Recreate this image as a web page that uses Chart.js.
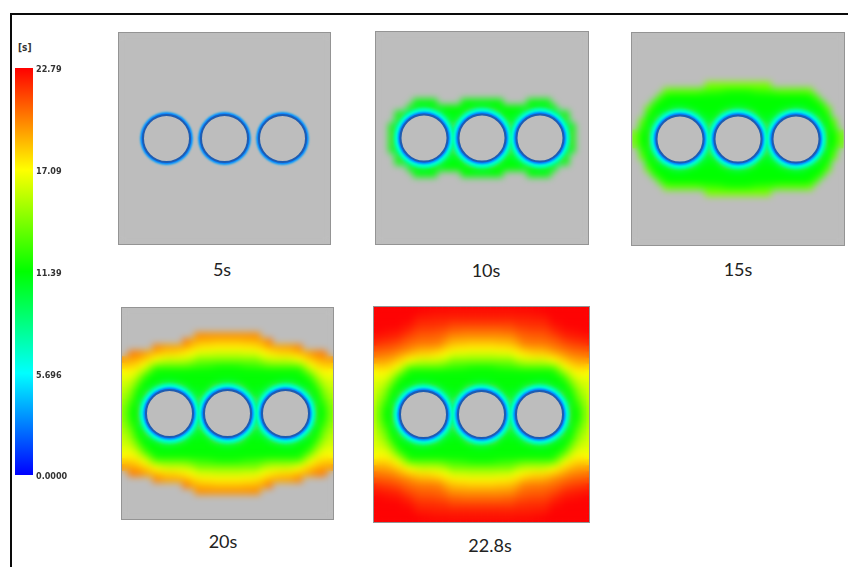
<!DOCTYPE html>
<html>
<head>
<meta charset="utf-8">
<script src="https://cdn.jsdelivr.net/npm/chart.js@4/dist/chart.umd.min.js"></script>
<style>
html, body { margin: 0; padding: 0; background: #fff; overflow: hidden; }
#frame { position: absolute; left: 10px; top: 13px; width: 860px; height: 600px; border: 2px solid #0a0a0a; box-sizing: border-box; }
.box { position: absolute; }
.cap { position: absolute; transform: translate(-50%, -50%); font: 18px Lato, sans-serif; color: #222; white-space: nowrap; }
#unit { position: absolute; left: 18px; top: 42px; font: bold 10px "DejaVu Sans Condensed", sans-serif; color: #333; }
</style>
</head>
<body>
<div id="frame"></div>
<div id="unit">[s]</div>

<script>
// colour scale
const scaleTicks = [0, 5.696, 11.39, 17.09, 22.79];
const scaleLabels = ['0.0000', '5.696', '11.39', '17.09', '22.79'];
const scaleColors = [[0, 0, 255], [0, 255, 255], [0, 255, 0], [255, 255, 0], [255, 0, 0]];

// colours as they look on the plates, green holds longer there than on the bar
const fieldTimes = [0, 4.5, 9.5, 13, 17.09, 22.79];
const fieldColors = [[0, 0, 255], [0, 255, 255], [0, 255, 0], [0, 255, 0], [255, 255, 0], [255, 0, 0]];

// snapshots
const panelNames = ['5s', '10s', '15s', '20s', '22.8s'];
const panelTimes = [5, 10, 15, 20, 22.8];
const panelLeft = [118, 375, 631, 121, 373];
const panelTop = [32, 31, 32, 307, 306];
const panelSize = [213, 214, 214, 213, 217];
const captionX = [222, 486, 738, 223, 490];
const captionY = [269, 270, 269, 541, 545];

// inserts, centre of each hole relative to the panel middle
const holeX = [-58, 0, 58];
const rimRadius = [30.5, 29, 27.8, 26.2, 25.2];
const rimTime = [7, 6, 5.1, 3.2, 1.8];

// fill time, one quarter of the plate (6 px step from the middle), 0 = under an insert
const gridStep = [0, 6, 12, 18, 24, 30, 36, 42, 48, 54, 60, 66, 72, 78, 84, 90, 96, 102, 108];
const fillTime = [
  [0, 0, 0, 0, 0, 7, 0, 0, 0, 0, 0, 0, 0, 0, 0, 9.5, 13, 14.7, 16],
  [0, 0, 0, 0, 0, 7, 0, 0, 0, 0, 0, 0, 0, 0, 0, 9.8, 13.2, 14.8, 16],
  [0, 0, 0, 0, 0, 8.3, 0, 0, 0, 0, 0, 0, 0, 0, 6.6, 9.9, 13.8, 15.1, 16.2],
  [0, 0, 0, 0, 8, 9.7, 6.4, 0, 0, 0, 0, 0, 0, 0, 9, 12.3, 14.6, 15.5, 16.4],
  [0, 0, 0, 8, 10, 9, 9.3, 6.8, 0, 0, 0, 0, 6, 8.6, 9.9, 13.4, 15.1, 15.9, 16.5],
  [8, 8.3, 9.1, 9.6, 9.7, 9.8, 9.6, 9.4, 9, 8.3, 8, 8.5, 9.5, 10.9, 12.6, 14.5, 15.8, 16.3, 16.6],
  [9.9, 9.9, 9.9, 9.9, 11, 11.2, 11, 10.9, 9.9, 9.9, 9.9, 9.9, 11.4, 12.6, 14, 15.5, 16.5, 16.7, 16.8],
  [11.8, 11.8, 11.9, 12.3, 12.5, 12.6, 12.6, 12.8, 12.5, 12.3, 12.3, 12.5, 13.1, 14.2, 15.5, 16.6, 17.2, 17.2, 17],
  [13.4, 13.4, 13.5, 13.8, 13.9, 14, 14.2, 14.5, 14.5, 14.5, 14.5, 14.5, 14.7, 16, 17, 17.7, 18.1, 18.2, 18],
  [15, 15, 15, 15, 15, 15, 15.8, 16.1, 16.3, 16.3, 16.3, 16.6, 17, 17.6, 18.2, 18.8, 19.1, 19.2, 19.3],
  [16.2, 16.2, 16.2, 16.4, 16.4, 16.6, 17, 17.4, 17.6, 17.9, 17.9, 18.1, 18.4, 18.9, 19.4, 19.8, 20, 20.1, 20.3],
  [17.4, 17.4, 17.4, 17.5, 17.5, 17.7, 18.1, 18.7, 19, 19.1, 19.1, 19.4, 19.8, 20.1, 20.4, 20.7, 20.8, 20.9, 21.1],
  [18.4, 18.4, 18.4, 18.6, 18.6, 18.8, 19.2, 20, 20.1, 20.2, 20.2, 20.3, 20.5, 20.8, 21.2, 21.4, 21.6, 21.7, 22],
  [19.5, 19.5, 19.5, 19.5, 19.6, 19.6, 20.2, 20.5, 20.6, 20.7, 20.7, 20.9, 21.2, 21.5, 22, 22.1, 22.2, 22.3, 22.4],
  [20.4, 20.4, 20.4, 20.4, 20.6, 20.6, 20.9, 21.1, 21.2, 21.3, 21.3, 21.4, 21.9, 22.2, 22.4, 22.5, 22.6, 22.7, 22.79],
  [21.3, 21.3, 21.3, 21.3, 21.3, 21.3, 21.7, 21.7, 21.8, 21.8, 21.8, 22, 22.4, 22.5, 22.79, 22.79, 22.79, 22.79, 22.79],
  [22.05, 22.05, 22.05, 22.05, 22.05, 22.05, 22.1, 22.1, 22.1, 22.2, 22.2, 22.3, 22.79, 22.79, 22.79, 22.79, 22.79, 22.79, 22.79],
  [22.4, 22.4, 22.4, 22.4, 22.4, 22.4, 22.5, 22.5, 22.5, 22.6, 22.6, 22.79, 22.79, 22.79, 22.79, 22.79, 22.79, 22.79, 22.79],
  [22.7, 22.7, 22.7, 22.7, 22.7, 22.7, 22.7, 22.7, 22.7, 22.75, 22.75, 22.79, 22.79, 22.79, 22.79, 22.79, 22.79, 22.79, 22.79]
];

const plateColor = '#bdbdbd';

function timeColor(t) {
  let i = 0;
  while (i < fieldTimes.length - 2 && t > fieldTimes[i + 1]) i++;
  const f = Math.min(1, (t - fieldTimes[i]) / (fieldTimes[i + 1] - fieldTimes[i]));
  const c = fieldColors[i].map((v, k) => Math.round(v + (fieldColors[i + 1][k] - v) * f));
  return 'rgb(' + c.join(',') + ')';
}

function addCanvas(left, top, w, h) {
  const box = document.createElement('div');
  box.className = 'box';
  box.style.left = left + 'px';
  box.style.top = top + 'px';
  box.style.width = w + 'px';
  box.style.height = h + 'px';
  const canvas = document.createElement('canvas');
  box.appendChild(canvas);
  document.body.appendChild(box);
  return canvas;
}

// soft edges: rims blur point by point, the cell layer is blurred as a whole once it is drawn
const blurLayers = {
  id: 'blurLayers',
  beforeDatasetDraw(chart, args) {
    const blur = chart.data.datasets[args.index].blur;
    if (blur) {
      chart.ctx.save();
      chart.ctx.filter = 'blur(' + blur + 'px)';
    }
  },
  afterDatasetDraw(chart, args) {
    const ds = chart.data.datasets[args.index];
    if (ds.blur) chart.ctx.restore();
    if (ds.smooth) {
      chart.ctx.save();
      chart.ctx.filter = 'blur(' + ds.smooth + 'px)';
      chart.ctx.drawImage(chart.canvas, 0, 0, chart.width, chart.height);
      chart.ctx.restore();
    }
  }
};

const plateBack = {
  id: 'plateBack',
  beforeDatasetsDraw(chart) {
    const a = chart.chartArea, c = chart.ctx;
    c.save();
    c.fillStyle = plateColor;
    c.fillRect(a.left, a.top, a.width, a.height);
    c.restore();
  },
  afterDatasetsDraw(chart) {
    const a = chart.chartArea, c = chart.ctx;
    c.save();
    c.strokeStyle = '#949494';
    c.lineWidth = 1;
    c.strokeRect(a.left + 0.5, a.top + 0.5, a.width - 1, a.height - 1);
    c.restore();
  }
};

function makePanel(p) {
  const canvas = addCanvas(panelLeft[p], panelTop[p], panelSize[p], panelSize[p]);
  const half = panelSize[p] / 2;
  const cells = [], cellColors = [];
  fillTime.forEach((row, j) => {
    row.forEach((t, i) => {
      if (t === 0 || t > panelTimes[p]) return;
      const xs = i === 0 ? [0] : [-gridStep[i], gridStep[i]];
      const ys = j === 0 ? [0] : [-gridStep[j], gridStep[j]];
      xs.forEach(x => ys.forEach(y => {
        cells.push({ x: x, y: y });
        cellColors.push(timeColor(t));
      }));
    });
  });

  const holes = holeX.map(x => ({ x: x, y: 0 }));
  const datasets = [{
    data: cells,
    pointStyle: 'rect',
    pointRadius: 4.6,
    pointBorderWidth: 0,
    backgroundColor: cellColors,
    smooth: 3.5,
    order: 20
  }];
  rimRadius.forEach((r, i) => {
    if (rimTime[i] > panelTimes[p]) return;
    datasets.push({
      data: holes,
      pointRadius: r,
      pointBorderWidth: 0,
      backgroundColor: timeColor(rimTime[i]),
      blur: 0.8,
      order: 10 - i
    });
  });
  datasets.push({
    data: holes,
    pointRadius: 23.5,
    pointBorderWidth: 2,
    borderColor: '#1f5cb0',
    backgroundColor: plateColor,
    order: 0
  });

  new Chart(canvas, {
    type: 'scatter',
    data: { datasets: datasets },
    options: {
      responsive: true,
      maintainAspectRatio: false,
      animation: false,
      events: [],
      layout: { padding: 0, autoPadding: false },
      plugins: { legend: { display: false }, tooltip: { enabled: false } },
      scales: {
        x: { type: 'linear', min: -half, max: half, display: false },
        y: { type: 'linear', min: -half, max: half, display: false }
      }
    },
    plugins: [plateBack, blurLayers]
  });
}

function makeScale() {
  const canvas = addCanvas(15, 58, 63, 430);
  const top = scaleTicks[scaleTicks.length - 1];
  new Chart(canvas, {
    type: 'bar',
    data: {
      labels: ['time'],
      datasets: [{
        data: [top],
        barPercentage: 1,
        categoryPercentage: 1,
        backgroundColor(ctx) {
          const y = ctx.chart.scales.y;
          const y0 = y ? y.getPixelForValue(0) : NaN;
          const y1 = y ? y.getPixelForValue(top) : NaN;
          if (!isFinite(y0) || !isFinite(y1) || y0 === y1) return '#00f';
          const g = ctx.chart.ctx.createLinearGradient(0, y0, 0, y1);
          scaleTicks.forEach((t, i) => g.addColorStop(t / top, 'rgb(' + scaleColors[i].join(',') + ')'));
          return g;
        }
      }]
    },
    options: {
      responsive: true,
      maintainAspectRatio: false,
      animation: false,
      events: [],
      layout: { padding: { top: 10, bottom: 13, left: 0, right: 0 } },
      plugins: { legend: { display: false }, tooltip: { enabled: false } },
      scales: {
        x: { display: false },
        y: {
          position: 'right',
          min: 0,
          max: top,
          afterBuildTicks(axis) { axis.ticks = scaleTicks.map(v => ({ value: v })); },
          afterFit(axis) { axis.width = 45; },
          grid: { display: false, drawTicks: false },
          border: { display: false },
          ticks: {
            autoSkip: false,
            padding: 3,
            labelOffset: 2,
            color: '#333',
            font: { family: '"DejaVu Sans Condensed", sans-serif', size: 9, weight: 'bold' },
            callback(v) { return scaleLabels[scaleTicks.indexOf(v)]; }
          }
        }
      }
    }
  });
}

panelNames.forEach((name, p) => {
  const cap = document.createElement('div');
  cap.className = 'cap';
  cap.textContent = name;
  cap.style.left = captionX[p] + 'px';
  cap.style.top = captionY[p] + 'px';
  document.body.appendChild(cap);
});

makeScale();
panelNames.forEach((name, p) => makePanel(p));
</script>
</body>
</html>
